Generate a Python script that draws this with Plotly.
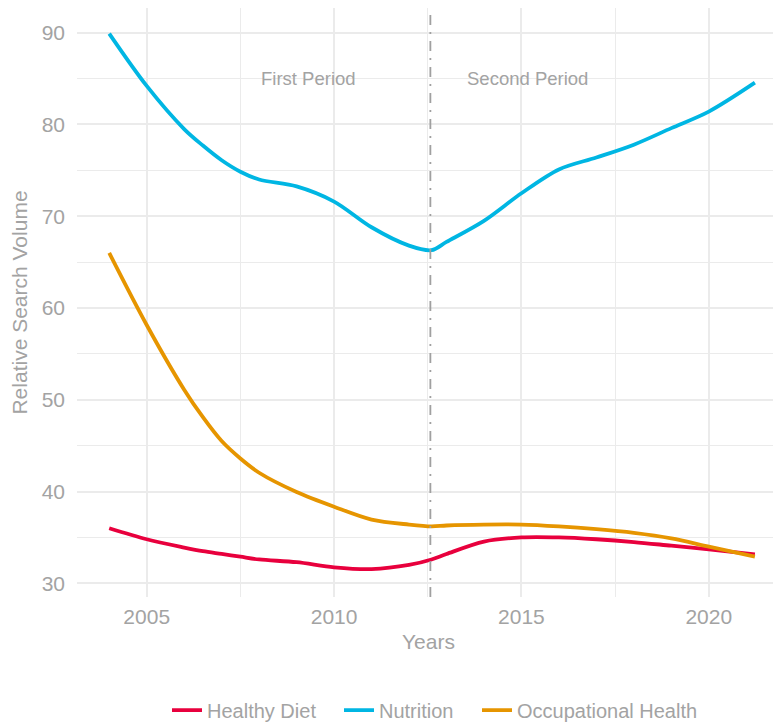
import plotly.graph_objects as go

years = [2004, 2005, 2006, 2006.5, 2007, 2007.5, 2008, 2009, 2010, 2011, 2012, 2012.6, 2013, 2014,
         2015, 2016, 2017, 2018, 2019, 2020, 2021.23]
healthy_diet = [36.0, 34.8, 33.9, 33.5, 33.2, 32.9, 32.6, 32.3, 31.75, 31.55, 32.0, 32.6, 33.2, 34.55,
                35.0, 35.0, 34.8, 34.5, 34.1, 33.7, 33.15]
nutrition = [89.9, 84.2, 79.5, 77.7, 76.1, 74.85, 74.0, 73.25, 71.6, 68.8, 66.8, 66.3, 67.2, 69.5,
             72.5, 75.1, 76.4, 77.8, 79.6, 81.4, 84.55]
occupational_health = [66.0, 58.15, 51.1, 48.1, 45.5, 43.6, 42.05, 39.95, 38.35, 36.95, 36.4, 36.2, 36.3, 36.4,
                       36.4, 36.2, 35.9, 35.5, 34.9, 34.0, 32.9]

series_names = ["Healthy Diet", "Nutrition", "Occupational Health"]
series_colors = ["#E8003D", "#00B6E3", "#E69500"]
period_break = 2012.57
period_labels = ["First Period", "Second Period"]
period_label_x = [2009.33, 2015.15]
period_label_y = 85

GREY = "#A3A3A3"
FONT = "Liberation Sans, Arial, Helvetica, sans-serif"

# page is offset by the browser's 8px body margin
L, R, T, B = 69, 9, 0, 135
plot_w = 781 - L - R
legend_ids = ["legend", "legend2", "legend3"]
legend_left_px = [167, 339, 477]  # page x of each legend box

fig = go.Figure()
for name, vals, col, lid in zip(series_names, [healthy_diet, nutrition, occupational_health],
                                series_colors, legend_ids):
    fig.add_trace(go.Scatter(x=years, y=vals, mode="lines", name=name, legend=lid,
                             line=dict(color=col, width=3.8, shape="spline", smoothing=0.9)))

fig.add_vline(x=period_break, line=dict(color="#A0A0A0", width=1.8, dash="10px,7px,2px,7px"))

for txt, xv in zip(period_labels, period_label_x):
    fig.add_annotation(x=xv, y=period_label_y, text=txt, showarrow=False,
                       font=dict(family=FONT, size=18.5, color=GREY))

legend_common = dict(orientation="h", xanchor="left", y=-0.192, yanchor="middle",
                     font=dict(family=FONT, size=20, color=GREY), bgcolor="rgba(0,0,0,0)")
legends = {}
for lid, px in zip(legend_ids, legend_left_px):
    legends[lid] = dict(x=(px - 8 - L) / plot_w, **legend_common)

fig.update_layout(
    width=781, height=724,
    margin=dict(l=L, r=R, t=T, b=B, autoexpand=False),
    paper_bgcolor="white", plot_bgcolor="white",
    font=dict(family=FONT, color=GREY),
    showlegend=True,
    **legends,
    xaxis=dict(range=[2003.14, 2021.9], tick0=2000, dtick=5, showgrid=True,
               gridcolor="#EBEBEB", gridwidth=1.8, zeroline=False, showline=False,
               ticks="", tickfont=dict(family=FONT, size=21, color=GREY),
               ticklabelstandoff=5,
               minor=dict(dtick=2.5, tick0=2000, showgrid=True, gridcolor="#EBEBEB", gridwidth=0.9),
               title=dict(text="Years", font=dict(family=FONT, size=21, color=GREY), standoff=7)),
    yaxis=dict(range=[28.51, 92.69], tick0=0, dtick=10, showgrid=True,
               gridcolor="#EBEBEB", gridwidth=1.8, zeroline=False, showline=False,
               ticks="", tickfont=dict(family=FONT, size=21, color=GREY),
               ticklabelstandoff=11,
               minor=dict(dtick=5, tick0=0, showgrid=True, gridcolor="#EBEBEB", gridwidth=0.9),
               title=dict(text="Relative Search Volume", font=dict(family=FONT, size=21, color=GREY), standoff=10)),
)

fig.write_html("out.html")
